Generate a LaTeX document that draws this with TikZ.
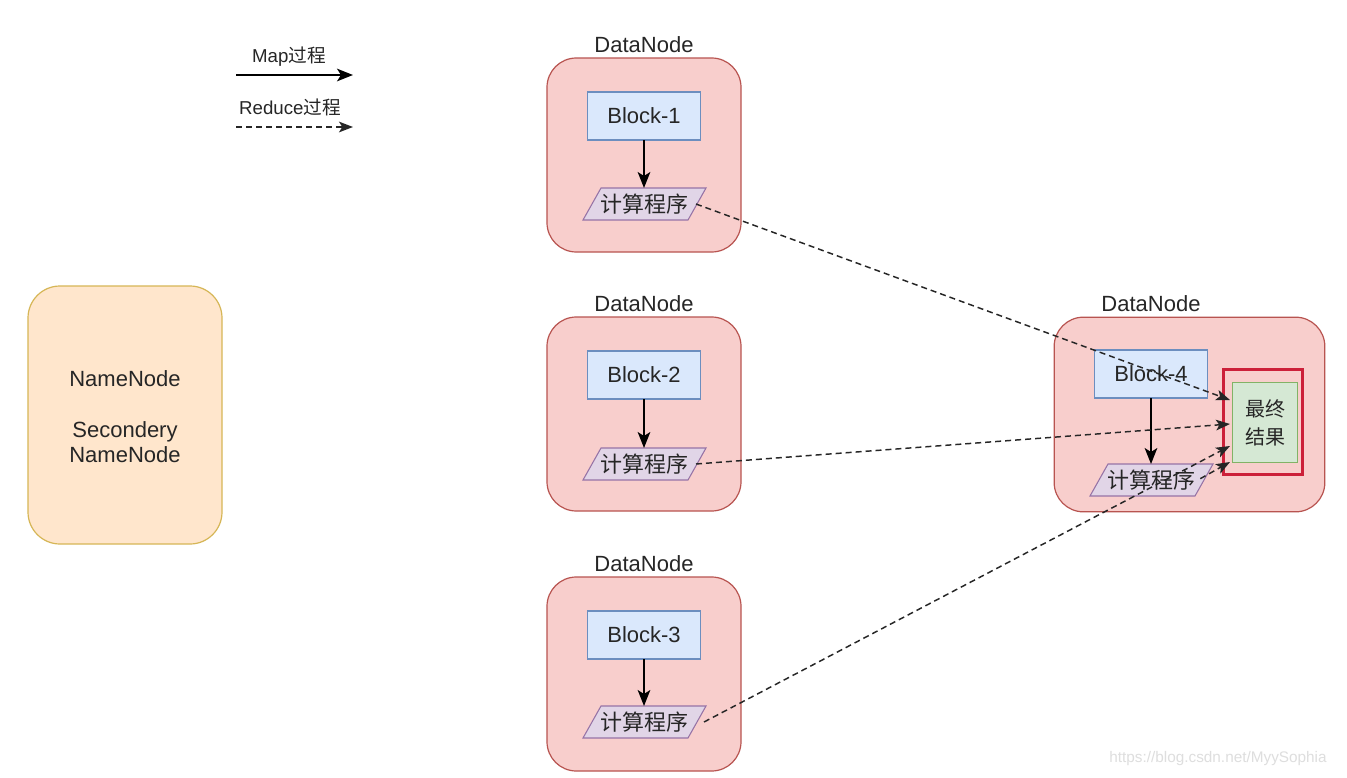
\documentclass[tikz,border=0pt]{standalone}
\usepackage{fontspec}
\setmainfont{Liberation Sans}
\newfontfamily\cjk{Noto Sans CJK SC}
\usetikzlibrary{arrows.meta}
\definecolor{dnfill}{HTML}{F8CECC}
\definecolor{dnline}{HTML}{B85450}
\definecolor{blfill}{HTML}{DAE8FC}
\definecolor{blline}{HTML}{6C8EBF}
\definecolor{pafill}{HTML}{E1D5E7}
\definecolor{paline}{HTML}{9673A6}
\definecolor{nnfill}{HTML}{FFE6CC}
\definecolor{nnline}{HTML}{D6B656}
\definecolor{grfill}{HTML}{D5E8D4}
\definecolor{grline}{HTML}{82B366}
\definecolor{redbox}{HTML}{CC2039}
\newcommand\bigtxt{\fontsize{16.5}{19}\selectfont}
\newcommand\paranode[3]{%
  \draw[parashape] (#2-61,#3+16) -- (#2-43,#3-16) -- (#2+62,#3-16) -- (#2+44,#3+16) -- cycle;
  \node[paratext] (#1) at (#2,#3) {\cjk 计算程序};}
\begin{document}
\begin{tikzpicture}[x=0.75pt,y=-0.75pt,
  every node/.style={inner sep=0pt,outer sep=0pt},
  dnbox/.style={draw=dnline,fill=dnfill,line width=0.9pt,rounded corners=22pt,minimum width=145.5pt,minimum height=145.5pt},
  dnlabel/.style={font=\bigtxt,text=black!85},
  blockbox/.style={draw=blline,fill=blfill,line width=0.8pt,minimum width=85pt,minimum height=36pt,font=\bigtxt,text=black!85},
  parashape/.style={draw=paline,fill=pafill,line width=0.8pt},
  paratext/.style={minimum width=78pt,minimum height=24pt,font=\bigtxt,text=black!85},
  maparrow/.style={-{Stealth[length=12pt,width=9.5pt,inset=3pt]},line width=1.1pt,black},
  redarrow/.style={-{Stealth[length=10.5pt,width=8pt,inset=2.5pt]},line width=1.1pt,black!85,dash pattern=on 4.5pt off 3pt},
  legtxt/.style={font=\fontsize{14}{16}\selectfont,text=black!85}]
\useasboundingbox (0,0) rectangle (1347,778);
\fill[white] (0,0) rectangle (1347,778);

% legend
\node[legtxt] (lmap) at (289,57) {Map{\cjk 过程}};
\coordinate (lm1) at (236,75);
\coordinate (lm2) at (353,75);
\draw[maparrow] (lm1) -- (lm2);
\node[legtxt] (lred) at (290,107) {Reduce{\cjk 过程}};
\coordinate (lr1) at (236,127);
\coordinate (lr2) at (353,127);
\draw[redarrow] (lr1) -- (lr2);

% NameNode
\node[draw=nnline,fill=nnfill,line width=0.9pt,rounded corners=24pt,minimum width=145.5pt,minimum height=193.5pt] (nn) at (125,415) {};
\node[font=\bigtxt,text=black!85,align=center] (nntxt) at (125,417) {NameNode\\[19pt]Secondery\\NameNode};

% DataNode 1
\node[dnlabel] (dl1) at (644,45) {DataNode};
\node[dnbox] (dn1) at (644,155) {};
\node[blockbox] (b1) at (644,116) {Block-1};
\paranode{p1}{644}{204}
\draw[maparrow] (b1) -- (p1.north);

% DataNode 2
\node[dnlabel] (dl2) at (644,304) {DataNode};
\node[dnbox] (dn2) at (644,414) {};
\node[blockbox] (b2) at (644,375) {Block-2};
\paranode{p2}{644}{464}
\draw[maparrow] (b2) -- (p2.north);

% DataNode 3
\node[dnlabel] (dl3) at (644,564) {DataNode};
\node[dnbox] (dn3) at (644,674) {};
\node[blockbox] (b3) at (644,635) {Block-3};
\paranode{p3}{644}{722}
\draw[maparrow] (b3) -- (p3.north);

% DataNode 4
\node[dnlabel] (dl4) at (1151,304) {DataNode};
\node[dnbox,minimum width=203pt,minimum height=146pt] (dn4) at (1189.5,414.5) {};
\node[blockbox] (b4) at (1151,374) {Block-4};
\paranode{p4}{1151}{480}
\draw[maparrow] (b4) -- (p4.north);
\node[draw=redbox,line width=2.4pt,minimum width=59pt,minimum height=79pt] (red) at (1263,422) {};
\node[draw=grline,fill=grfill,line width=0.8pt,minimum width=49pt,minimum height=60pt,font=\fontsize{15}{21}\selectfont,text=black!85,align=center] (res) at (1265,422.5) {\cjk 最终\\\cjk 结果};

% reduce arrows
\coordinate (t1) at (1230,400);
\coordinate (t2) at (1230,424);
\coordinate (t3) at (1230,446);
\coordinate (t4) at (1230,462);
\draw[redarrow] (p1.east) -- (t1);
\draw[redarrow] (p2.east) -- (t2);
\draw[redarrow] ([xshift=6pt]p3.east) -- (t3);
\draw[redarrow] ([xshift=-2pt,yshift=1pt]p4.east) -- (t4);

% watermark
\node[font=\fontsize{11.5}{13}\selectfont,text=black!13] (wm) at (1218,759) {https://blog.csdn.net/MyySophia};
\end{tikzpicture}
\end{document}
